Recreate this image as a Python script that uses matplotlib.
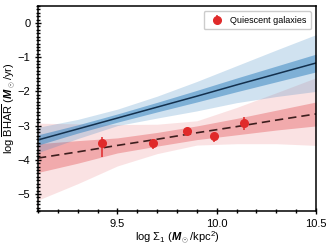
"""
    bhar_sigma1.py

    log BHAR vs log Sigma_1 with fitted relations and confidence bands
"""

from matplotlib import pyplot as plt
import numpy as np

plt.rcParams['font.family'] = ['Liberation Sans', 'DejaVu Sans']
plt.rcParams['mathtext.fontset'] = 'custom'
plt.rcParams['mathtext.rm'] = 'Liberation Sans'
plt.rcParams['mathtext.it'] = 'Liberation Sans:italic:bold'
plt.rcParams['mathtext.bf'] = 'Liberation Sans:bold'

xs = [9.1, 9.3, 9.5, 9.7, 9.9, 10.1, 10.3, 10.5]

# blue relation (star-forming fit)
blue_line = [-3.42, -3.10, -2.78, -2.46, -2.14, -1.81, -1.49, -1.17]
blue_in_hi = [-3.27, -2.98, -2.66, -2.32, -1.97, -1.61, -1.26, -0.91]
blue_in_lo = [-3.57, -3.22, -2.90, -2.60, -2.31, -2.01, -1.72, -1.43]
blue_out_hi = [-3.05, -2.82, -2.52, -2.14, -1.71, -1.25, -0.79, -0.34]
blue_out_lo = [-3.79, -3.38, -3.00, -2.78, -2.57, -2.33, -2.15, -2.00]

# red relation (quiescent fit)
red_line = [-3.95, -3.77, -3.58, -3.40, -3.21, -3.03, -2.84, -2.66]
red_in_hi = [-3.53, -3.44, -3.36, -3.20, -3.01, -2.79, -2.55, -2.31]
red_in_lo = [-4.37, -4.10, -3.80, -3.60, -3.41, -3.27, -3.13, -3.01]
red_out_hi = [-2.93, -2.95, -2.97, -2.96, -2.86, -2.47, -2.04, -1.60]
red_out_lo = [-5.18, -4.70, -4.18, -3.82, -3.57, -3.53, -3.53, -3.58]

# quiescent galaxy bins
q_x = [9.42, 9.68, 9.85, 9.985, 10.135]
q_y = [-3.52, -3.52, -3.15, -3.30, -2.93]
q_err_lo = [0.40, 0.16, 0.08, 0.18, 0.19]
q_err_hi = [0.18, 0.12, 0.08, 0.09, 0.17]

blue = '#3c87c2'
red = '#e0383c'

fig = plt.figure(figsize = (3.33, 2.46), dpi = 100)
ax = fig.add_axes([0.114, 0.142, 0.835, 0.834])

ax.fill_between(xs, red_out_lo, red_out_hi, color = red, alpha = 0.14, lw = 0)
ax.fill_between(xs, red_in_lo, red_in_hi, color = red, alpha = 0.33, lw = 0)
ax.fill_between(xs, blue_out_lo, blue_out_hi, color = blue, alpha = 0.24, lw = 0)
ax.fill_between(xs, blue_in_lo, blue_in_hi, color = blue, alpha = 0.55, lw = 0)

ax.plot(xs, blue_line, color = '#13304d', lw = 1.1)
ax.plot(xs, red_line, color = '#3d1e1e', lw = 1.2, ls = (0, (5, 3)))

ax.errorbar(q_x, q_y, yerr = [q_err_lo, q_err_hi], fmt = 'o', color = '#e02a2a',
            ms = 5.5, elinewidth = 1.1, capsize = 0, label = 'Quiescent galaxies', zorder = 5)

ax.set_xlim(9.1, 10.5)
ax.set_ylim(-5.5, 0.5)
ax.set_xticks([9.5, 10.0, 10.5])
ax.set_yticks([0, -1, -2, -3, -4, -5])
ax.set_yticklabels(['0', '\u22121', '\u22122', '\u22123', '\u22124', '\u22125'])
ax.set_xticks(np.arange(9.1, 10.51, 0.1), minor = True)
ax.set_yticks(np.arange(-5.5, 0.51, 0.1), minor = True)
ax.tick_params(which = 'both', direction = 'inout', labelsize = 8, top = False, right = False)
ax.tick_params(which = 'major', length = 4, width = 1)
ax.tick_params(which = 'minor', length = 2.5, width = 1)

for s in ax.spines.values():
    s.set_linewidth(1.1)

ax.set_xlabel(r'log $\Sigma_1$ ($M_\odot$/kpc$^2$)', fontsize = 8, labelpad = 1)
ax.set_ylabel(r'log $\overline{\mathrm{BHAR}}$ ($M_\odot$/yr)', fontsize = 8, labelpad = 0)

ax.legend(loc = 'upper right', fontsize = 6.5, handletextpad = 0.4, borderpad = 0.5,
          framealpha = 1, edgecolor = '#cccccc', borderaxespad = 0.6)

fig.savefig('out.png', dpi = 100)
